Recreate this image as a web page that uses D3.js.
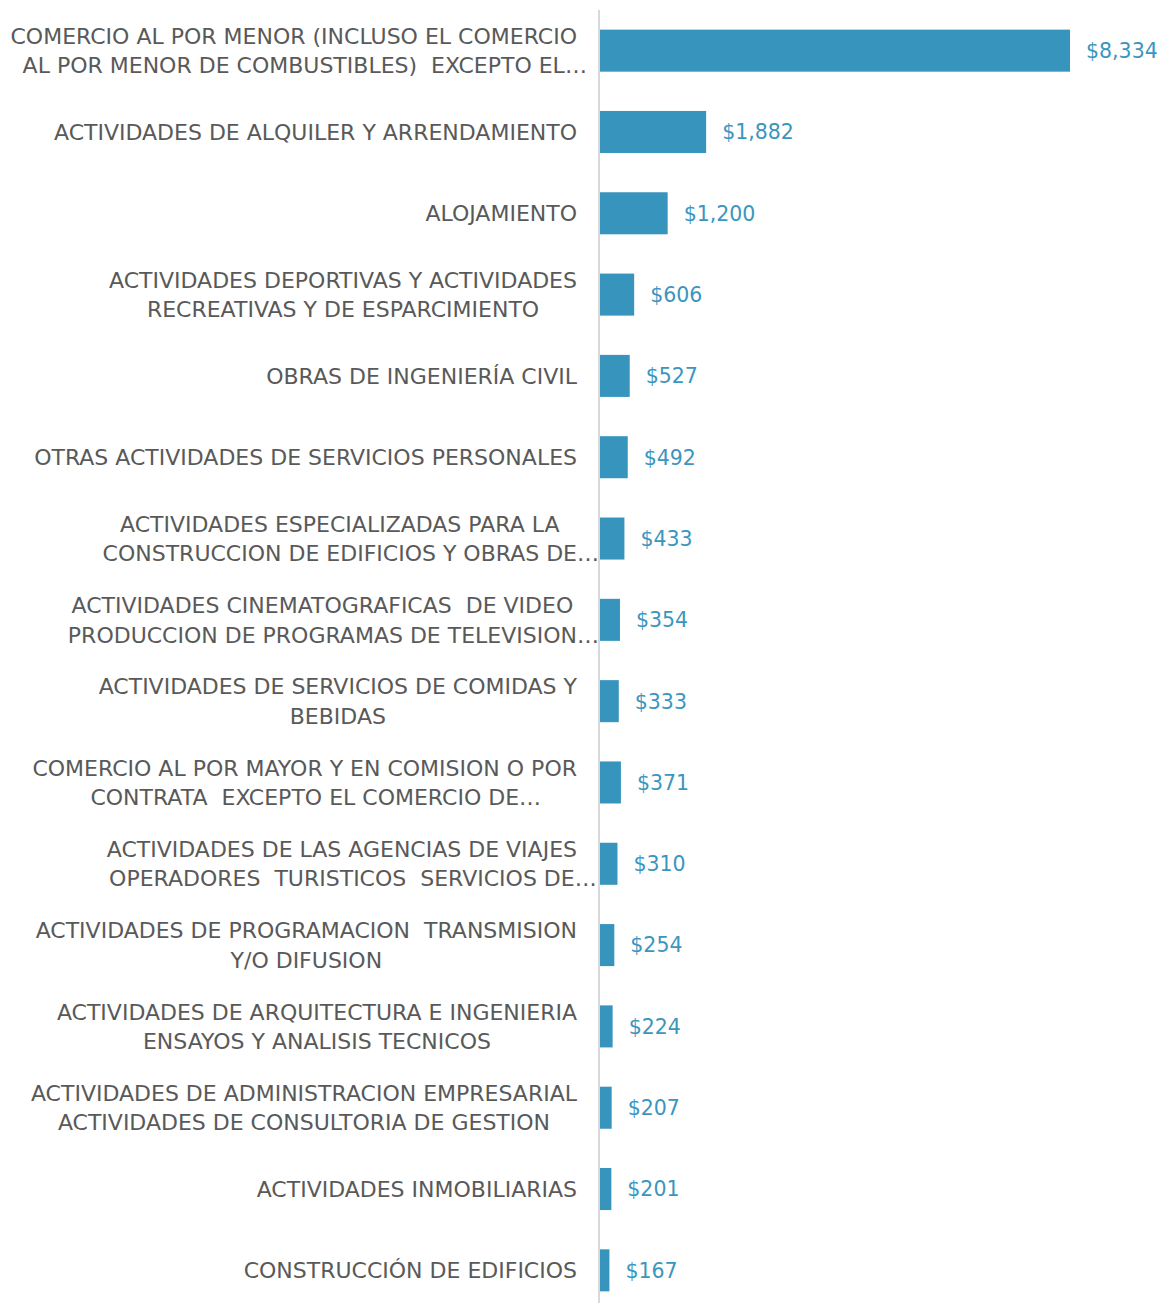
<!DOCTYPE html>
<meta charset="utf-8">
<script src="https://d3js.org/d3.v7.min.js"></script>
<style>
  body { margin: 0; background: #fff; }
  text { white-space: pre; }
</style>
<body>
<div id="graph"></div>
<script>
  // categories (label lines, as wrapped in the original)
  var labels = [
    ["COMERCIO AL POR MENOR (INCLUSO EL COMERCIO", "AL POR MENOR DE COMBUSTIBLES)  EXCEPTO EL…"],
    ["ACTIVIDADES DE ALQUILER Y ARRENDAMIENTO"],
    ["ALOJAMIENTO"],
    ["ACTIVIDADES DEPORTIVAS Y ACTIVIDADES", "RECREATIVAS Y DE ESPARCIMIENTO"],
    ["OBRAS DE INGENIERÍA CIVIL"],
    ["OTRAS ACTIVIDADES DE SERVICIOS PERSONALES"],
    ["ACTIVIDADES ESPECIALIZADAS PARA LA", "CONSTRUCCION DE EDIFICIOS Y OBRAS DE…"],
    ["ACTIVIDADES CINEMATOGRAFICAS  DE VIDEO", "PRODUCCION DE PROGRAMAS DE TELEVISION…"],
    ["ACTIVIDADES DE SERVICIOS DE COMIDAS Y", "BEBIDAS"],
    ["COMERCIO AL POR MAYOR Y EN COMISION O POR", "CONTRATA  EXCEPTO EL COMERCIO DE…"],
    ["ACTIVIDADES DE LAS AGENCIAS DE VIAJES", "OPERADORES  TURISTICOS  SERVICIOS DE…"],
    ["ACTIVIDADES DE PROGRAMACION  TRANSMISION", "Y/O DIFUSION"],
    ["ACTIVIDADES DE ARQUITECTURA E INGENIERIA", "ENSAYOS Y ANALISIS TECNICOS"],
    ["ACTIVIDADES DE ADMINISTRACION EMPRESARIAL", "ACTIVIDADES DE CONSULTORIA DE GESTION"],
    ["ACTIVIDADES INMOBILIARIAS"],
    ["CONSTRUCCIÓN DE EDIFICIOS"]
  ];

  // values
  var values = [8334, 1882, 1200, 606, 527, 492, 433, 354, 333, 371, 310, 254, 224, 207, 201, 167];

  var width = 1163, height = 1303;
  var axisX = 600;

  var svg = d3.select("#graph")
    .append("svg")
    .attr("width", width)
    .attr("height", height);

  var idx = d3.range(values.length);

  var y = d3.scaleBand()
    .domain(idx)
    .range([10, 1311])
    .paddingInner(0.483)
    .paddingOuter(0.2415);

  var x = d3.scaleLinear()
    .domain([0, 8334])
    .range([axisX, 1070]);

  var fmt = d3.format(",");

  // bars
  svg.selectAll(".bar")
    .data(idx)
    .enter()
    .append("rect")
    .attr("class", "bar")
    .attr("x", x(0))
    .attr("y", function (i) { return y(i); })
    .attr("width", function (i) { return x(values[i]) - x(0); })
    .attr("height", y.bandwidth())
    .attr("fill", "#3795bd");

  // vertical axis line
  svg.append("line")
    .attr("x1", axisX - 1)
    .attr("x2", axisX - 1)
    .attr("y1", 10)
    .attr("y2", height)
    .attr("stroke", "#d9d9d9")
    .attr("stroke-width", 2);

  // value labels
  svg.selectAll(".val")
    .data(idx)
    .enter()
    .append("text")
    .attr("class", "val")
    .attr("x", function (i) { return x(values[i]) + 16; })
    .attr("y", function (i) { return y(i) + y.bandwidth() / 2; })
    .attr("dy", "0.36em")
    .style("font-family", "'DejaVu Sans', Verdana, sans-serif")
    .style("font-size", "20.5px")
    .attr("fill", "#3a96be")
    .text(function (i) { return "$" + fmt(values[i]); });

  // category labels: lines centred on each other, block right-aligned at 577
  var lineH = 29.5;
  var labelRight = 577;
  var labelFont = "'DejaVu Sans', sans-serif";
  idx.forEach(function (i) {
    var lines = labels[i];
    var cy = y(i) + y.bandwidth() / 2;
    var g = svg.append("g").attr("class", "cat");
    var texts = lines.map(function (ln, k) {
      var ell = ln.endsWith("…");
      var base = ell ? ln.slice(0, -1) : ln;
      var t = g.append("text")
        .attr("y", cy + (k - (lines.length - 1) / 2) * lineH)
        .attr("dy", "0.36em")
        .attr("text-anchor", "middle")
        .style("font-family", labelFont)
        .style("font-size", "22px")
        .attr("fill", "#595959")
        .text(base);
      return { t: t, ell: ell, w: t.node().getComputedTextLength() };
    });
    var maxW = d3.max(texts, function (d) { return d.w; });
    var cx = labelRight - maxW / 2;
    texts.forEach(function (d) {
      d.t.attr("x", cx);
      if (d.ell) {
        g.append("text")
          .attr("x", cx + d.w / 2)
          .attr("y", d.t.attr("y"))
          .attr("dy", "0.36em")
          .style("font-family", labelFont)
          .style("font-size", "22px")
          .attr("fill", "#595959")
          .text("…");
      }
    });
  });
</script>
</body>
